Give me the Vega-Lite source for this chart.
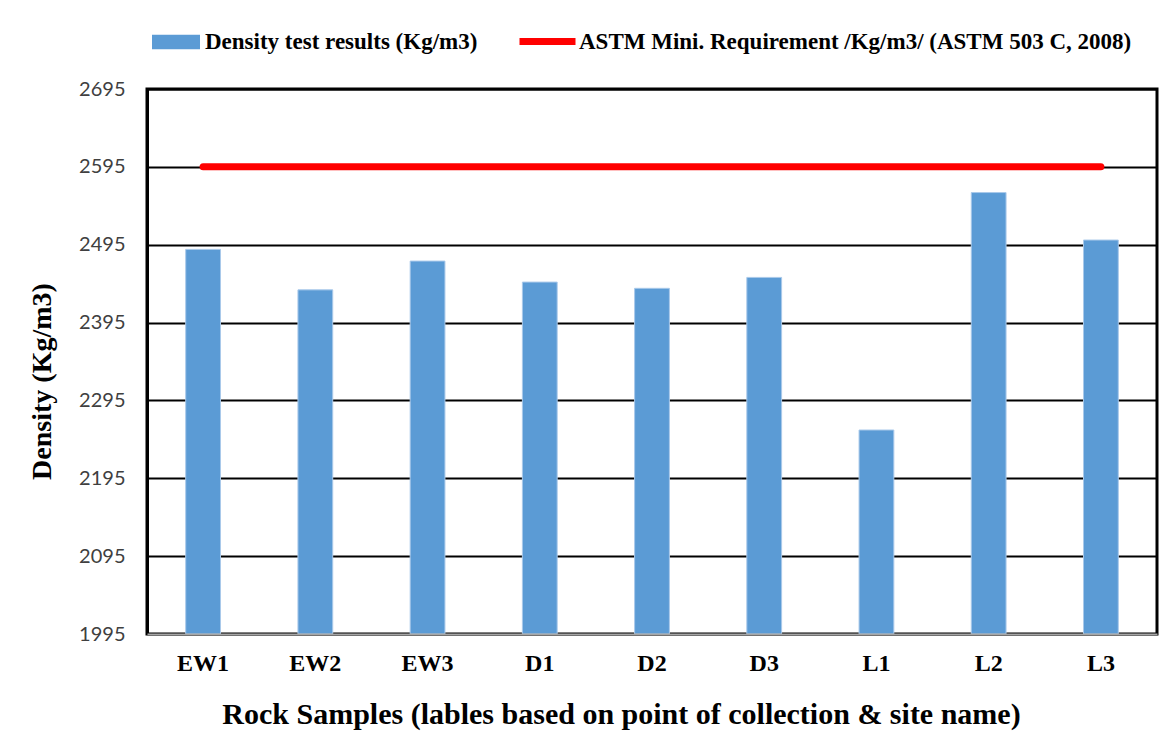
{
  "$schema": "https://vega.github.io/schema/vega-lite/v6.json",
  "width": 1010,
  "height": 545,
  "autosize": {"type": "none"},
  "padding": {"left": 147, "top": 89, "right": 18, "bottom": 115},
  "background": "white",
  "data": {
    "values": [
      {"sample": "EW1", "density": 2489, "requirement": 2595},
      {"sample": "EW2", "density": 2437, "requirement": 2595},
      {"sample": "EW3", "density": 2474, "requirement": 2595},
      {"sample": "D1", "density": 2447, "requirement": 2595},
      {"sample": "D2", "density": 2439, "requirement": 2595},
      {"sample": "D3", "density": 2453, "requirement": 2595},
      {"sample": "L1", "density": 2257, "requirement": 2595},
      {"sample": "L2", "density": 2562, "requirement": 2595},
      {"sample": "L3", "density": 2501, "requirement": 2595}
    ]
  },
  "encoding": {
    "x": {
      "field": "sample",
      "type": "nominal",
      "sort": null,
      "scale": {"paddingInner": 0.69, "paddingOuter": 0.345},
      "axis": {
        "title": "Rock Samples (lables based on point of collection & site name)",
        "titleFont": "Liberation Serif",
        "titleFontWeight": "bold",
        "titleFontSize": 30,
        "titleColor": "#000000",
        "titleBaseline": "alphabetic",
        "titleX": 474,
        "titleY": 89,
        "titleAnchor": "middle",
        "labelAngle": 0,
        "labelFont": "Liberation Serif",
        "labelFontWeight": "bold",
        "labelFontSize": 24,
        "labelColor": "#000000",
        "labelBaseline": "alphabetic",
        "labelPadding": 36,
        "ticks": false,
        "domain": true,
        "domainColor": "#a6a6a6",
        "domainWidth": 2,
        "zindex": 1,
        "grid": false
      }
    }
  },
  "layer": [
    {
      "mark": {"type": "bar", "stroke": "#a9c9ea", "strokeWidth": 1},
      "encoding": {
        "y": {
          "field": "density",
          "type": "quantitative",
          "scale": {"domain": [1995, 2695], "nice": false, "zero": false},
          "axis": {
            "title": "Density (Kg/m3)",
            "titleFont": "Liberation Serif",
            "titleFontWeight": "bold",
            "titleFontSize": 28,
            "titleColor": "#000000",
            "titleAngle": -90,
            "titleBaseline": "alphabetic",
            "titleAlign": "center",
            "titleX": -97,
            "titleY": 292,
            "values": [1995, 2095, 2195, 2295, 2395, 2495, 2595, 2695],
            "format": "d",
            "labelFont": "Lato",
            "labelFontSize": 20,
            "labelColor": "#404040",
            "labelPadding": 22,
            "ticks": false,
            "domainColor": "#000000",
            "domainWidth": 3,
            "grid": true,
            "gridColor": "#000000",
            "gridWidth": 2
          }
        },
        "y2": {"datum": 1995},
        "fill": {
          "datum": "Density test results (Kg/m3)",
          "type": "nominal",
          "scale": {"range": ["#5b9bd5"]},
          "legend": {
            "title": null,
            "orient": "none",
            "legendX": 5,
            "legendY": -71,
            "symbolType": "M-1,-0.3H1V0.3H-1Z",
            "symbolSize": 2304,
            "symbolStrokeWidth": 0,
            "labelFont": "Liberation Serif",
            "labelFontWeight": "bold",
            "labelFontSize": 23,
            "labelColor": "#000000",
            "labelOffset": 5,
            "labelLimit": 0,
            "padding": 0
          }
        }
      }
    },
    {
      "mark": {"type": "line", "strokeWidth": 7, "strokeCap": "round"},
      "encoding": {
        "y": {"field": "requirement", "type": "quantitative"},
        "stroke": {
          "datum": "ASTM Mini. Requirement /Kg/m3/ (ASTM 503 C, 2008)",
          "type": "nominal",
          "scale": {"range": ["#ff0000"]},
          "legend": {
            "title": null,
            "orient": "none",
            "legendX": 369,
            "legendY": -79,
            "symbolType": "stroke",
            "symbolSize": 3136,
            "symbolStrokeWidth": 7,
            "labelFont": "Liberation Serif",
            "labelFontWeight": "bold",
            "labelFontSize": 23,
            "labelColor": "#000000",
            "labelOffset": 0,
            "labelLimit": 0,
            "padding": 0
          }
        }
      }
    }
  ],
  "config": {
    "view": {"stroke": "#000000", "strokeWidth": 3}
  }
}
